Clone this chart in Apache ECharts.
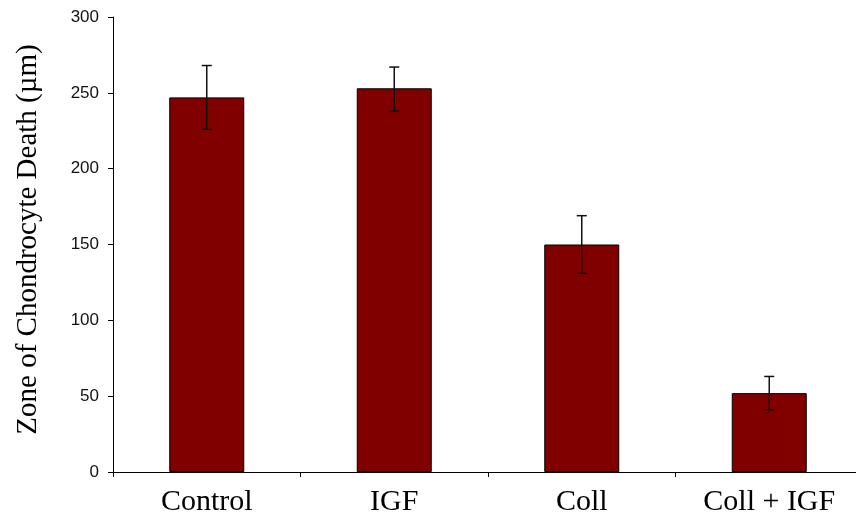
<!DOCTYPE html>
<html>
<head>
<meta charset="utf-8">
<script src="https://cdn.jsdelivr.net/npm/echarts@6/dist/echarts.min.js"></script>
<style>html,body{margin:0;padding:0;background:#fff;overflow:hidden}#c{width:866px;height:520px}</style>
</head>
<body>
<div id="c"></div>
<script>
const categories = ['Control', 'IGF', 'Coll', 'Coll + IGF'];
const means = [247, 253, 150, 52];
const errLow = [226, 238, 131, 41];
const errHigh = [268, 267, 169, 63];
const yTicks = [0, 50, 100, 150, 200, 250, 300];
const yTitle = 'Zone of Chondrocyte Death (\u00b5m)';

const chart = echarts.init(document.getElementById('c'), null, {renderer: 'canvas'});
const errData = categories.map((c, i) => [i, errLow[i], errHigh[i]]);

chart.setOption({
  animation: false,
  backgroundColor: '#fff',
  grid: {left: 113, right: 3, top: 17, bottom: 48, containLabel: false},
  xAxis: {
    type: 'category',
    data: categories,
    axisLine: {lineStyle: {color: '#000', width: 1}},
    axisTick: {show: true, length: 5, lineStyle: {color: '#000'}},
    axisLabel: {
      color: '#000', fontFamily: '"Liberation Serif", "Times New Roman", serif',
      fontSize: 30, margin: 15
    }
  },
  yAxis: {
    type: 'value',
    min: yTicks[0], max: yTicks[yTicks.length - 1], interval: 50,
    name: yTitle,
    nameLocation: 'middle',
    nameGap: 70,
    nameTextStyle: {color: '#000', fontFamily: '"Liberation Serif", "Times New Roman", serif', fontSize: 29, padding: [0, 0, 0, 10]},
    axisLine: {show: true, lineStyle: {color: '#000', width: 1}},
    axisTick: {show: true, length: 5, lineStyle: {color: '#000'}},
    splitLine: {show: false},
    axisLabel: {
      color: '#111', fontFamily: '"Liberation Sans", Arial, sans-serif',
      fontSize: 17, margin: 14
    }
  },
  series: [
    {
      type: 'bar',
      data: means,
      barWidth: '40%',
      itemStyle: {color: '#800000', borderColor: '#000', borderWidth: 1}
    },
    {
      type: 'custom',
      data: errData,
      z: 10,
      renderItem: function (params, api) {
        const x = api.value(0);
        const lo = api.coord([x, api.value(1)]);
        const hi = api.coord([x, api.value(2)]);
        const hw = 5;
        const style = {stroke: '#111', lineWidth: 1.5};
        return {
          type: 'group',
          children: [
            {type: 'line', shape: {x1: lo[0], y1: lo[1], x2: hi[0], y2: hi[1]}, style: style},
            {type: 'line', shape: {x1: lo[0] - hw, y1: lo[1], x2: lo[0] + hw, y2: lo[1]}, style: style},
            {type: 'line', shape: {x1: hi[0] - hw, y1: hi[1], x2: hi[0] + hw, y2: hi[1]}, style: style}
          ]
        };
      }
    }
  ]
});
</script>
</body>
</html>
